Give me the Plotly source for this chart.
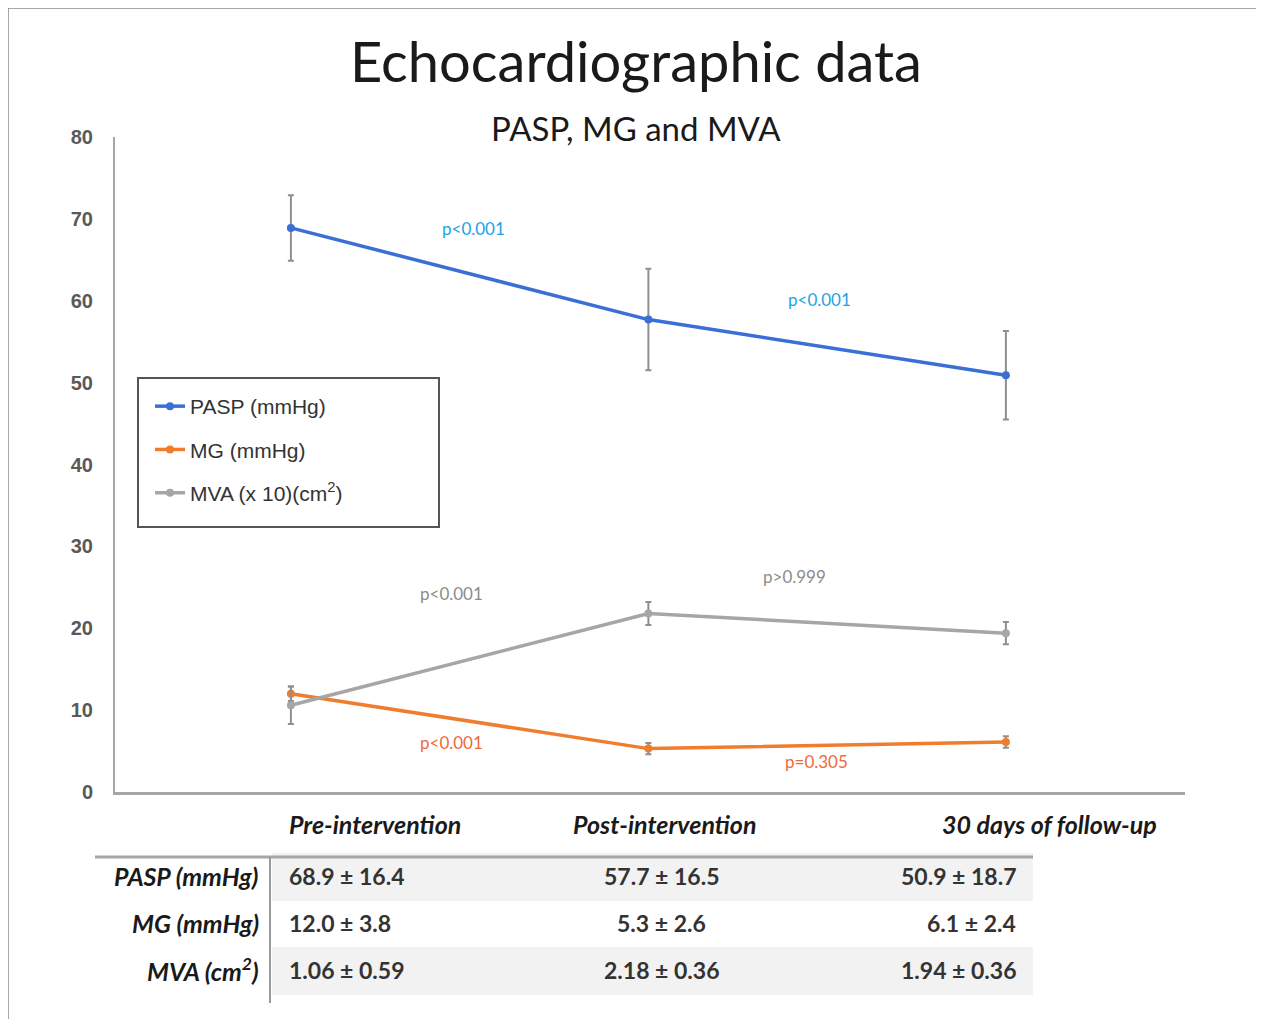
import plotly.graph_objects as go

# ---------------- data ----------------
timepoints = ["Pre-intervention", "Post-intervention", "30 days of follow-up"]
pasp_mean = [68.9, 57.7, 50.9]
pasp_err = [4.0, 6.2, 5.4]
mg_mean = [12.0, 5.3, 6.1]
mg_err = [0.9, 0.7, 0.7]
mva_x10_mean = [10.6, 21.8, 19.4]
mva_x10_err = [2.3, 1.4, 1.35]

series_names = ["PASP (mmHg)", "MG (mmHg)", "MVA (x 10)(cm<sup>2</sup>)"]

# p-values: (text, between-index x, y value, color key)
pvals_text = ["p<0.001", "p<0.001", "p<0.001", "p>0.999", "p<0.001", "p=0.305"]
pvals_x = [0.51, 1.48, 0.45, 1.41, 0.45, 1.47]
pvals_y = [68.8, 60.2, 24.3, 26.3, 6.0, 3.7]
pvals_color = ["#1ea2e6", "#1ea2e6", "#8c8c8c", "#8c8c8c", "#ee6a3a", "#ee6a3a"]

table_rows = ["PASP (mmHg)", "MG (mmHg)", "MVA (cm<sup>2</sup>)"]
table_means = [["68.9", "57.7", "50.9"], ["12.0", "5.3", "6.1"], ["1.06", "2.18", "1.94"]]
table_sds = [["16.4", "16.5", "18.7"], ["3.8", "2.6", "2.4"], ["0.59", "0.36", "0.36"]]

y_ticks = [0, 10, 20, 30, 40, 50, 60, 70, 80]

# ---------------- geometry helpers (target pixel -> paper) ----------------
OFF = 8  # page body margin
W, H = 1264 - OFF, 1019 - OFF
ML = 115 - OFF
MT = 137 - OFF
MR = W - (1185 - OFF)
MB = H - (792 - OFF)
PW, PH = W - ML - MR, H - MT - MB


def px(x):
    return (x - 115) / PW


def py(y):
    return (792 - y) / PH


xs = [0, 1, 2]
colors = ["#3a6fd6", "#f07d2e", "#a6a6a6"]
err_color = "#8f8f8f"

fig = go.Figure()
for i, (m, e) in enumerate([(pasp_mean, pasp_err), (mg_mean, mg_err), (mva_x10_mean, mva_x10_err)]):
    fig.add_trace(go.Scatter(
        x=xs, y=m, name=series_names[i], mode="lines+markers",
        line=dict(color=colors[i], width=3.5),
        marker=dict(color=colors[i], size=8),
        error_y=dict(type="data", array=e, visible=True, color=err_color, thickness=2, width=3),
        legendgroup="g%d" % i,
    ))

annotations = []
# subtitle
annotations.append(dict(text="PASP, MG and MVA", xref="paper", yref="paper", x=px(636), y=py(128),
                        showarrow=False, font=dict(family="Lato", size=33, color="#1a1a1a"),
                        xanchor="center", yanchor="middle"))
# p-values
for t, x, y, c in zip(pvals_text, pvals_x, pvals_y, pvals_color):
    annotations.append(dict(text=t, x=x, y=y, xref="x", yref="y", showarrow=False,
                            font=dict(family="Lato", size=17, color=c)))
# category headers
head_x = [375, 665, 1049]
for t, hx in zip(timepoints, head_x):
    annotations.append(dict(text="<b><i>%s</i></b>" % t, xref="paper", yref="paper", x=px(hx), y=py(824),
                            showarrow=False, font=dict(family="Lato", size=25, color="#1a1a1a"),
                            xanchor="center", yanchor="middle"))
# table
row_y = [876, 923, 970]
col_x = [287, 661, 1018]
col_anchor = ["left", "center", "right"]
shapes = []
for r in (0, 2):
    shapes.append(dict(type="rect", xref="paper", yref="paper", x0=px(272), x1=px(1033),
                       y0=py(row_y[r] - 23), y1=py(row_y[r] + 25), fillcolor="#f2f2f2",
                       line=dict(width=0), layer="below"))
shapes.append(dict(type="line", xref="paper", yref="paper", x0=px(95), x1=px(1033), y0=py(857), y1=py(857),
                   line=dict(color="#a6a6a6", width=3)))
shapes.append(dict(type="line", xref="paper", yref="paper", x0=px(270), x1=px(270), y0=py(857), y1=py(1003),
                   line=dict(color="#9a9a9a", width=2)))
for r, lab in enumerate(table_rows):
    annotations.append(dict(text="<b><i>%s</i></b>" % lab, xref="paper", yref="paper", x=px(261), y=py(row_y[r]),
                            showarrow=False, font=dict(family="Lato", size=25, color="#1a1a1a"),
                            xanchor="right", yanchor="middle"))
    for c in range(3):
        annotations.append(dict(text="<b>%s ± %s</b>" % (table_means[r][c], table_sds[r][c]),
                                xref="paper", yref="paper", x=px(col_x[c]), y=py(row_y[r]),
                                showarrow=False, font=dict(family="Lato", size=23, color="#333333"),
                                xanchor=col_anchor[c], yanchor="middle"))
# legend border
shapes.append(dict(type="rect", xref="paper", yref="paper", x0=px(138), x1=px(439), y0=py(378), y1=py(527),
                   line=dict(color="#555555", width=2)))
# outer frame
shapes.append(dict(type="rect", xref="paper", yref="paper", x0=px(8), x1=px(1262), y0=py(8), y1=py(1040),
                   line=dict(color="#8a8a8a", width=1.5)))

fig.update_layout(
    width=W, height=H,
    margin=dict(l=ML, r=MR, t=MT, b=MB),
    paper_bgcolor="white", plot_bgcolor="white",
    title=dict(text="Echocardiographic data", x=px(636), xref="paper", xanchor="center",
               y=1 - (62 - OFF) / H, yanchor="middle", font=dict(family="Lato", size=56, color="#1a1a1a")),
    xaxis=dict(range=[-0.492, 2.501], showticklabels=False, showgrid=False, zeroline=False,
               showline=True, linecolor="#a6a6a6", linewidth=2.5, ticks=""),
    yaxis=dict(range=[0, 80], tickvals=y_ticks, showgrid=False, zeroline=False,
               showline=True, linecolor="#a6a6a6", linewidth=2, ticks="", ticklabelstandoff=16,
               tickfont=dict(family="Liberation Sans", size=20, color="#595959", weight="bold")),
    legend=dict(x=px(150), y=py(386), xanchor="left", yanchor="top", bgcolor="rgba(0,0,0,0)",
                font=dict(family="Liberation Sans", size=21, color="#333333"), tracegroupgap=13,
                borderwidth=0),
    annotations=annotations, shapes=shapes,
)

fig.write_html("out.html")
